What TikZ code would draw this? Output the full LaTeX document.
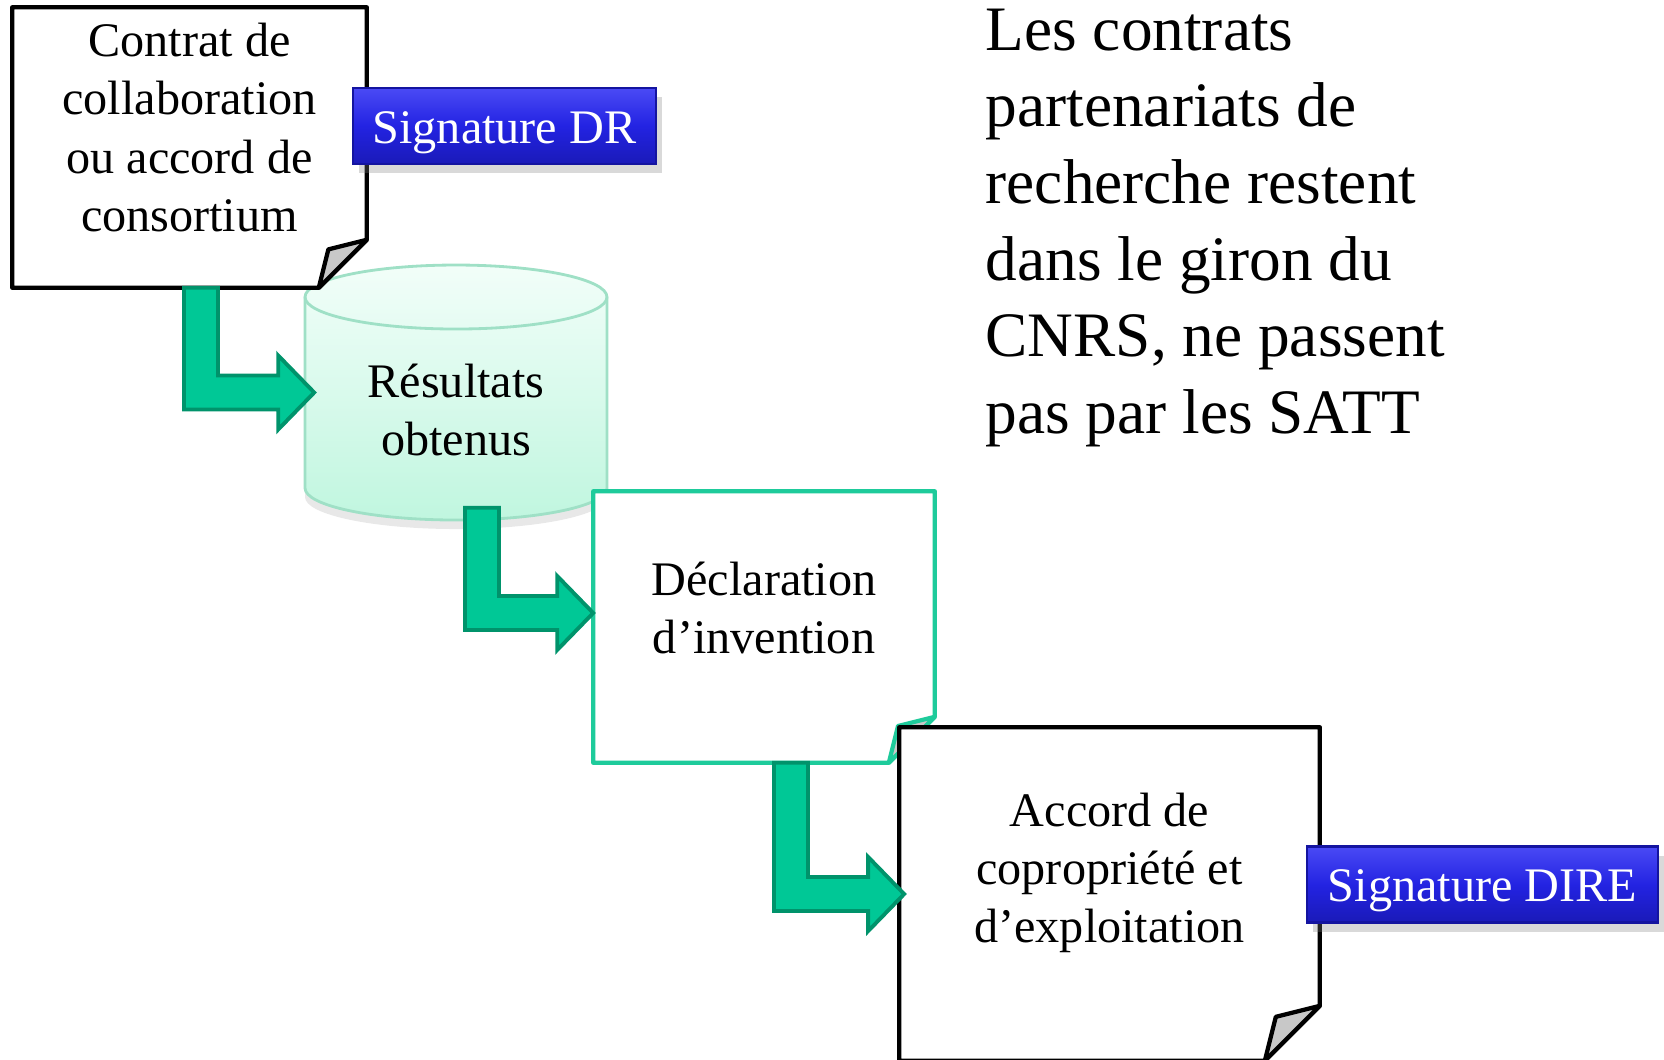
\documentclass[tikz,border=0pt]{standalone}
\usepackage{fontspec}
\setmainfont{Liberation Serif}
\usetikzlibrary{calc,shadows}

\definecolor{arrowfill}{HTML}{00C896}
\definecolor{arrowedge}{HTML}{00936B}
\definecolor{declline}{HTML}{1ECB9B}
\definecolor{mintT}{HTML}{F2FEF9}
\definecolor{mintB}{HTML}{C0F6DF}
\definecolor{mintline}{HTML}{9FE0C6}
\definecolor{flapgray}{HTML}{C8C8C8}
\definecolor{sigtop}{HTML}{4A4AF5}
\definecolor{sigmid}{HTML}{2323E2}
\definecolor{sigbot}{HTML}{1A1AB8}
\definecolor{sigedge}{HTML}{1414A0}

\tikzset{
    % invisible frame of a shape, outline drawn afterwards
    docframe/.style={inner sep=0pt},
    % text inside the shapes
    doctext/.style={align=center,font=\fontsize{13.7}{16.5}\selectfont},
    % blue signature tag
    signtag/.style={draw=sigedge,line width=0.6pt,top color=sigtop,bottom color=sigbot,middle color=sigmid,
        text=white,font=\fontsize{13.7}{16.5}\selectfont,minimum height=0.76cm,inner sep=0pt,
        text height=0.97em,text depth=0em,
        drop shadow={shadow xshift=0.6mm,shadow yshift=-0.9mm,opacity=0.3}},
    % bent green arrow
    flowarrow/.style={fill=arrowfill,draw=arrowedge,line width=1.1pt,line join=miter}
}

% document outline with folded corner: node, colour, fold size
\newcommand{\docoutline}[3]{%
  \draw[line width=1.2pt,draw=#2,fill=white,line join=round]
    (#1.north west) -- (#1.north east) -- ([yshift=#3]#1.south east)
    -- ([xshift=-#3]#1.south east) -- (#1.south west) -- cycle;
  \draw[line width=1.2pt,draw=#2,fill=flapgray,line join=round]
    ([yshift=#3]#1.south east) -- ([xshift=-0.8*#3,yshift=0.8*#3]#1.south east)
    -- ([xshift=-#3]#1.south east) -- cycle;
}

% bent block arrow: start of the shaft, tip
\newcommand{\bentarrow}[2]{%
  \draw[flowarrow] let \p1=#1, \p2=#2 in
    (\x1-1.7mm,\y1) -- (\x1+1.7mm,\y1) -- (\x1+1.7mm,\y2+1.7mm) -- (\x2-3.6mm,\y2+1.7mm)
    -- (\x2-3.6mm,\y2+3.7mm) -- (\x2,\y2) -- (\x2-3.6mm,\y2-3.7mm) -- (\x2-3.6mm,\y2-1.7mm)
    -- (\x1-1.7mm,\y2-1.7mm) -- cycle;
}

\begin{document}
\begin{tikzpicture}[x=0.01cm,y=-0.01cm]
    \useasboundingbox (0,0) rectangle (1664,1059);

    % frames
    \node[docframe,minimum width=3.53cm,minimum height=2.79cm] (contrat) at (189.5,147.5) {};
    \node[docframe,minimum width=3.02cm,minimum height=2.55cm] (res) at (456,392.5) {};
    \node[docframe,minimum width=3.40cm,minimum height=2.70cm] (decl) at (764,627) {};
    \node[docframe,minimum width=4.19cm,minimum height=3.32cm] (accord) at (1109.5,894) {};

    % cylinder
    \shade[top color=mintT,bottom color=mintB,draw=mintline,line width=0.8pt,
        drop shadow={shadow xshift=0mm,shadow yshift=-0.9mm,opacity=0.18}]
        (305,297) -- (305,488) arc[start angle=180,end angle=0,x radius=151,y radius=32]
        -- (607,297) arc[start angle=0,end angle=-180,x radius=151,y radius=32] -- cycle;
    \draw[mintline,line width=0.8pt] (305,297) arc[start angle=180,end angle=0,x radius=151,y radius=32];
    \node[doctext] (res-txt) at ([yshift=-1.75mm]res.center) {Résultats\\obtenus};

    % contract
    \docoutline{contrat}{black}{4.8mm}
    \node[doctext] (contrat-txt) at ([yshift=2mm]contrat.center) {Contrat de\\collaboration\\ou accord de\\consortium};
    \node[signtag,minimum width=3.03cm] (sigdr) at (504.5,126) {Signature DR};
    \bentarrow{([xshift=1.15mm]contrat.south)}{([xshift=1mm]res.west)}

    % declaration
    \docoutline{decl}{declline}{4.6mm}
    \node[doctext] (decl-txt) at ([yshift=1.95mm]decl.center) {Déclaration\\d’invention};
    \bentarrow{([xshift=2.6mm,yshift=1.3mm]res.south)}{([yshift=1.4mm]decl.west)}

    % agreement
    \docoutline{accord}{black}{5.5mm}
    \node[doctext] (accord-txt) at ([yshift=2.1mm]accord.center) {Accord de\\copropriété et\\d’exploitation};
    \node[signtag,minimum width=3.51cm] (sigdire) at (1482.5,884.5) {Signature DIRE};
    \bentarrow{([xshift=2.7mm]decl.south)}{([xshift=0.5mm]accord.west)}

    % side note
    \node[anchor=north west,align=left,inner sep=0pt,font=\fontsize{18}{21.8}\selectfont] (note) at (985,8)
        {Les contrats\\partenariats de\\recherche restent\\dans le giron du\\CNRS, ne passent\\pas par les SATT};
\end{tikzpicture}
\end{document}
